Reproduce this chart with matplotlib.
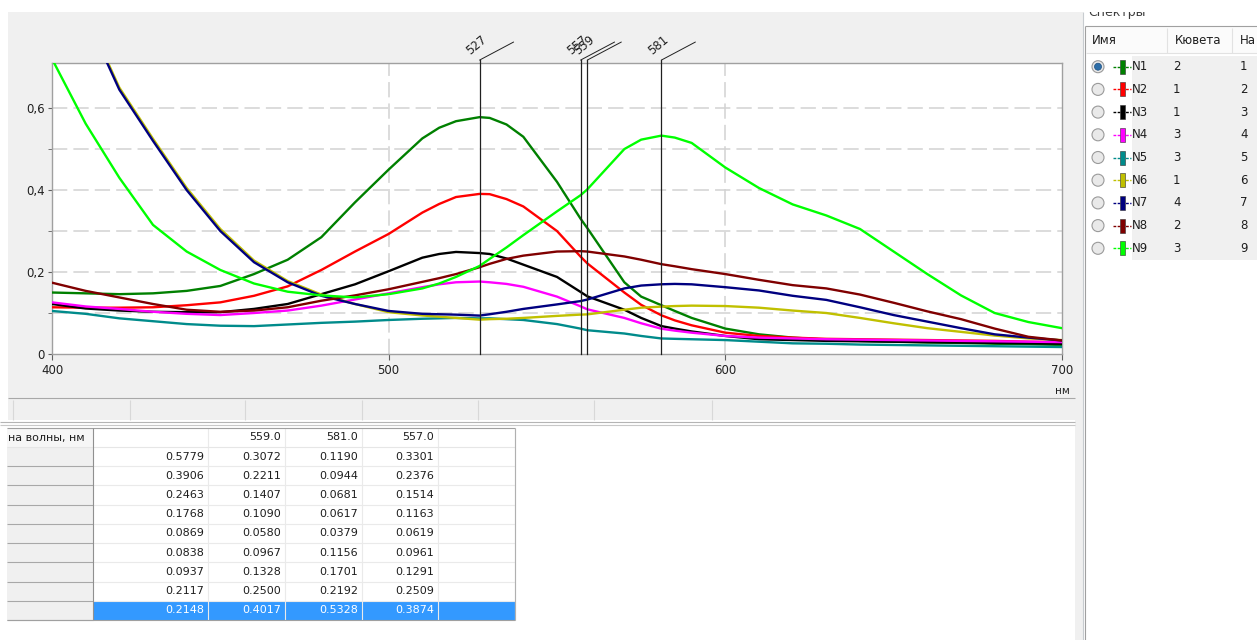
'''Spectra window: absorbance chart, table of readings and the list of spectra.'''

import matplotlib
matplotlib.use('Agg')
import matplotlib.pyplot as plt
from matplotlib.patches import Rectangle, Circle

WAVELENGTHS = [400, 410, 420, 430, 440, 450, 460, 470, 480, 490, 500, 510, 515, 520, 527, 530,
               535, 540, 550, 557, 559, 570, 575, 581, 585, 590, 600, 610, 620, 630, 640, 650,
               660, 670, 680, 690, 700]

N1 = [0.150, 0.148, 0.146, 0.148, 0.154, 0.166, 0.195, 0.230, 0.285, 0.370, 0.450, 0.526, 0.552,
      0.568, 0.5779, 0.576, 0.560, 0.530, 0.420, 0.3301, 0.3072, 0.175, 0.140, 0.1190, 0.105,
      0.088, 0.062, 0.048, 0.040, 0.035, 0.032, 0.030, 0.028, 0.027, 0.025, 0.024, 0.022]
N2 = [0.114, 0.113, 0.113, 0.114, 0.119, 0.126, 0.142, 0.165, 0.205, 0.250, 0.293, 0.345, 0.366,
      0.383, 0.3906, 0.390, 0.378, 0.360, 0.300, 0.2376, 0.2211, 0.150, 0.120, 0.0944, 0.082,
      0.070, 0.052, 0.044, 0.040, 0.037, 0.036, 0.035, 0.034, 0.033, 0.032, 0.030, 0.029]
N3 = [0.122, 0.111, 0.106, 0.103, 0.102, 0.102, 0.110, 0.122, 0.146, 0.170, 0.202, 0.235, 0.244,
      0.249, 0.2463, 0.244, 0.233, 0.218, 0.188, 0.1514, 0.1407, 0.108, 0.088, 0.0681, 0.062,
      0.055, 0.044, 0.036, 0.034, 0.032, 0.031, 0.030, 0.029, 0.028, 0.027, 0.026, 0.025]
N4 = [0.126, 0.116, 0.110, 0.103, 0.098, 0.095, 0.100, 0.106, 0.118, 0.133, 0.148, 0.163, 0.170,
      0.175, 0.1768, 0.175, 0.171, 0.164, 0.140, 0.1163, 0.1090, 0.088, 0.075, 0.0617, 0.057,
      0.052, 0.044, 0.040, 0.038, 0.036, 0.035, 0.034, 0.033, 0.032, 0.031, 0.030, 0.029]
N5 = [0.105, 0.098, 0.087, 0.080, 0.073, 0.069, 0.068, 0.072, 0.076, 0.079, 0.083, 0.086, 0.087,
      0.088, 0.0869, 0.087, 0.085, 0.083, 0.073, 0.0619, 0.0580, 0.050, 0.044, 0.0379, 0.037,
      0.036, 0.034, 0.030, 0.026, 0.025, 0.023, 0.022, 0.021, 0.020, 0.019, 0.018, 0.017]
N6 = [1.050, 0.830, 0.650, 0.525, 0.405, 0.305, 0.228, 0.178, 0.145, 0.122, 0.102, 0.094, 0.091,
      0.088, 0.0838, 0.085, 0.086, 0.088, 0.093, 0.0961, 0.0967, 0.108, 0.113, 0.1156, 0.117,
      0.118, 0.117, 0.113, 0.106, 0.100, 0.088, 0.075, 0.063, 0.054, 0.045, 0.038, 0.034]
N7 = [1.045, 0.825, 0.645, 0.520, 0.400, 0.300, 0.224, 0.175, 0.142, 0.122, 0.105, 0.098, 0.097,
      0.096, 0.0937, 0.097, 0.103, 0.110, 0.121, 0.1291, 0.1328, 0.160, 0.167, 0.1701, 0.171,
      0.170, 0.163, 0.155, 0.142, 0.132, 0.114, 0.095, 0.079, 0.063, 0.048, 0.040, 0.033]
N8 = [0.174, 0.154, 0.138, 0.122, 0.108, 0.103, 0.106, 0.114, 0.130, 0.143, 0.158, 0.176, 0.185,
      0.195, 0.2117, 0.220, 0.232, 0.240, 0.250, 0.2509, 0.2500, 0.238, 0.230, 0.2192, 0.214,
      0.207, 0.195, 0.181, 0.168, 0.160, 0.145, 0.125, 0.104, 0.085, 0.062, 0.042, 0.033]
N9 = [0.720, 0.562, 0.430, 0.315, 0.250, 0.205, 0.172, 0.152, 0.143, 0.138, 0.146, 0.160, 0.172,
      0.188, 0.2148, 0.232, 0.260, 0.290, 0.348, 0.3874, 0.4017, 0.500, 0.523, 0.5328, 0.528,
      0.515, 0.455, 0.405, 0.365, 0.338, 0.305, 0.250, 0.195, 0.143, 0.100, 0.078, 0.063]

SPECTRA = [N1, N2, N3, N4, N5, N6, N7, N8, N9]
NAMES = ['N1', 'N2', 'N3', 'N4', 'N5', 'N6', 'N7', 'N8', 'N9']
COLORS = ['#008000', '#ff0000', '#000000', '#ff00ff', '#008b8b',
          '#c0c000', '#000080', '#800000', '#00ff00']
CUVETTES = [2, 1, 1, 3, 3, 1, 4, 2, 3]
NUMBERS = [1, 2, 3, 4, 5, 6, 7, 8, 9]

MARKERS = [527, 557, 559, 581]
X_TICKS = [400, 500, 600, 700]
Y_TICKS = [0, 0.2, 0.4, 0.6]
Y_LABELS = ['0', '0,2', '0,4', '0,6']

TABLE_HEADER = ['', '559.0', '581.0', '557.0']
TABLE_VALUES = [[0.5779, 0.3072, 0.1190, 0.3301],
                [0.3906, 0.2211, 0.0944, 0.2376],
                [0.2463, 0.1407, 0.0681, 0.1514],
                [0.1768, 0.1090, 0.0617, 0.1163],
                [0.0869, 0.0580, 0.0379, 0.0619],
                [0.0838, 0.0967, 0.1156, 0.0961],
                [0.0937, 0.1328, 0.1701, 0.1291],
                [0.2117, 0.2500, 0.2192, 0.2509],
                [0.2148, 0.4017, 0.5328, 0.3874]]

W, H = 1257, 640
GRAY = '#f0f0f0'
FS = 8

fig = plt.figure(figsize=(W / 100, H / 100), dpi=100)
fig.patch.set_facecolor('white')

# background layer in pixel coordinates for the window frame
bg = fig.add_axes([0, 0, 1, 1])
bg.set_xlim(0, W)
bg.set_ylim(H, 0)
bg.axis('off')

def rect(x, y, w, h, fc, ec='none', lw=0.8, z=1):
    bg.add_patch(Rectangle((x, y), w, h, fc=fc, ec=ec, lw=lw, zorder=z))

def hline(y, x0, x1, color, lw=0.8, z=2):
    bg.plot([x0, x1], [y, y], color=color, lw=lw, zorder=z, solid_capstyle='butt')

def vline(x, y0, y1, color, lw=0.8, z=2):
    bg.plot([x, x], [y0, y1], color=color, lw=lw, zorder=z, solid_capstyle='butt')

# chart panel and status strip
rect(8, 12, 1067, 408, GRAY)
hline(397.5, 8, 1075, '#a8a8a8')
for x in [13, 130, 245, 362, 478, 594, 712]:
    vline(x, 400, 420, '#d8d8d8')
hline(421.5, 0, 1075, '#b4b4b4')
hline(424.5, 0, 1075, '#c8c8c8')
rect(0, 426, 1075, 214, 'white')
bg.text(1070, 391, 'нм', ha='right', va='center', fontsize=7.5, color='#202020')

# splitter and spectra list on the right
rect(1075, 12, 8, 628, GRAY)
vline(1083, 12, 640, '#c8ccd0')
bg.text(1088, 16, 'Спектры', fontsize=9, color='#3c3c3c', va='baseline')
vline(1085, 26, 640, '#a0a0a0')
hline(26, 1085, 1257, '#a0a0a0')
rect(1086, 27, 171, 26, '#fbfbfb')
hline(53, 1086, 1257, '#e2e2e2')
for x in [1167, 1232]:
    vline(x, 28, 53, '#e2e2e2')
for x, label in [(1092, 'Имя'), (1175, 'Кювета'), (1240, 'На')]:
    bg.text(x, 41, label, va='center', fontsize=8.5, color='#1e1e1e')
rect(1132, 56, 125, 204, GRAY)

row_y0, row_step = 66.7, 22.7
for i, (name, color, cuv, num) in enumerate(zip(NAMES, COLORS, CUVETTES, NUMBERS)):
    y = row_y0 + i * row_step
    bg.add_patch(Circle((1098, y), 6, fc='#e9e9e9', ec='#9a9a9a', lw=0.8, zorder=3))
    if i == 0:
        bg.add_patch(Circle((1098, y), 3.5, fc='#2d6ea8', ec='#1d4f80', lw=0.5, zorder=4))
    bg.plot([1113, 1131], [y, y], color=color, lw=1, ls=(0, (2, 1)), zorder=3)
    rect(1119.5, y - 7, 5, 14, color, ec='#303030', lw=0.4, z=4)
    bg.text(1132, y, name, va='center', fontsize=FS + 0.5, color='#1e1e1e')
    bg.text(1173, y, str(cuv), va='center', fontsize=FS + 0.5, color='#1e1e1e')
    bg.text(1240, y, str(num), va='center', fontsize=FS + 0.5, color='#1e1e1e')

# table of readings at the marked wavelengths
col_edges = [7, 93, 208, 285, 362, 438, 515]
head_top, head_bot = 428, 447
row_h = (620 - head_bot) / len(TABLE_VALUES)
hline(head_top, 7, 515, '#a0a0a0')
rect(7, head_top, 86, head_bot - head_top, '#f6f6f6')
bg.text(8, (head_top + head_bot) / 2, 'на волны, нм', va='center', fontsize=FS, color='#1e1e1e')
for j, label in enumerate(TABLE_HEADER):
    bg.text(col_edges[j + 2] - 4, (head_top + head_bot) / 2, label, ha='right', va='center',
            fontsize=FS, color='#1e1e1e')
hline(head_bot, 7, 515, '#e6e6e6')
selected = len(TABLE_VALUES) - 1
for i, row in enumerate(TABLE_VALUES):
    top = head_bot + i * row_h
    yc = top + row_h / 2
    rect(7, top, 86, row_h, GRAY)
    hline(top + row_h, 7, 93, '#a8a8a8')
    if i == selected:
        rect(93, top, 422, row_h, '#3399ff', z=1.5)
    else:
        hline(top + row_h, 93, 515, '#eaeaea')
    for j, value in enumerate(row):
        bg.text(col_edges[j + 2] - 4, yc, f'{value:.4f}', ha='right', va='center', fontsize=FS,
                color='white' if i == selected else '#1e1e1e', zorder=3)
for x in col_edges[2:]:
    vline(x, head_top, 620, '#eaeaea', z=1.6)
vline(93, head_top, 620, '#909090')
vline(515, head_top, 620, '#b0b0b0')
hline(620, 7, 515, '#a0a0a0')

# white strip over the top of the window (cuts the group caption)
rect(0, 0, W, 12, 'white', z=10)

# the spectra chart itself
ax = fig.add_axes([52 / W, 1 - 354 / H, 1010 / W, 291 / H])
ax.set_facecolor('white')
for values, color in zip(SPECTRA, COLORS):
    ax.plot(WAVELENGTHS, values, color=color, lw=1.7, zorder=3)
ax.set_xlim(400, 700)
ax.set_ylim(0, 0.71)

ax.set_xticks(X_TICKS)
ax.set_xticklabels([str(t) for t in X_TICKS])
ax.set_yticks(Y_TICKS)
ax.set_yticklabels(Y_LABELS)
ax.set_yticks([0.1, 0.3, 0.5], minor=True)
ax.tick_params(axis='both', which='both', labelsize=8.5, colors='#202020', direction='out')
ax.tick_params(axis='x', length=4, pad=3, color='#606060')
ax.tick_params(axis='y', which='both', length=3, pad=2, color='#606060')
for spine in ax.spines.values():
    spine.set_color('#a0a0a0')
    spine.set_linewidth(1)

dash = (0, (10, 4))
for y in [0.1, 0.2, 0.3, 0.4, 0.5, 0.6]:
    ax.axhline(y, color='#d2d2d2', lw=1.1, ls=dash, zorder=1)
for x in [500, 600]:
    ax.axvline(x, color='#d2d2d2', lw=1.1, ls=dash, zorder=1)

# cursor lines with slanted labels
for wl in MARKERS:
    ax.axvline(wl, ymax=1.01, color='#202020', lw=0.9, zorder=4, clip_on=False)
    ax.annotate('', xy=(wl, 1.01), xycoords=('data', 'axes fraction'), xytext=(24.5, 13),
                textcoords='offset points', annotation_clip=False,
                arrowprops=dict(arrowstyle='-', lw=0.7, color='#202020', shrinkA=0, shrinkB=0))
    ax.annotate(str(wl), xy=(wl, 1.01), xycoords=('data', 'axes fraction'), xytext=(-5.5, 2),
                textcoords='offset points', rotation=40, rotation_mode='anchor', ha='left',
                va='bottom', fontsize=8.5, color='#202020', annotation_clip=False)

fig.savefig('out.png', dpi=100, facecolor='white')
